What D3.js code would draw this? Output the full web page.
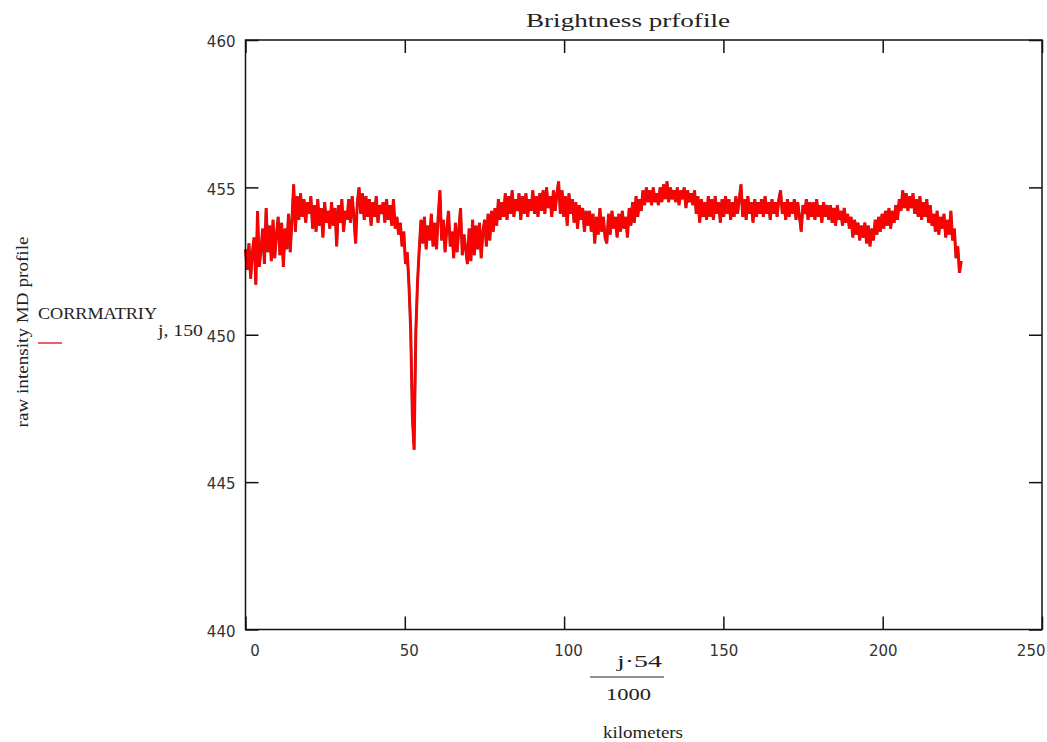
<!DOCTYPE html>
<html lang="en">

<head>
  <meta charset="UTF-8">
  <title>Brightness prfofile</title>
  <style>
    body {
      margin: 0;
      background: #fff;
    }

    svg {
      display: block;
    }

    .tick-label {
      font-family: "DejaVu Sans", sans-serif;
      font-size: 15px;
      fill: #333;
    }

    .serif {
      font-family: "Liberation Serif", "DejaVu Serif", serif;
      fill: #222;
    }
  </style>
</head>

<body>
  <svg width="1047" height="742"></svg>
  <script src="https://d3js.org/d3.v7.min.js"></script>
  <script>
    var width = 1047;
    var height = 742;
    var margin = { top: 40, right: 5, bottom: 112.5, left: 245.5 };

    // sampled every 10th j (j*54/1000 = kilometers)
    var jStep = 10;
    var brightness = [
      452.9, 452.2, 453.1, 451.9, 452.8, 453.3, 451.7, 454.2, 452.3, 452.9,
      453.6, 452.4, 454.3, 452.8, 453.7, 452.5, 453.9, 452.6, 453.4, 454.0,
      452.7, 453.8, 452.3, 453.6, 452.9, 454.1, 452.8, 453.9, 455.1, 453.5,
      454.7, 453.9, 454.8, 454.0, 454.6, 453.8, 454.5, 454.1, 454.7, 453.6,
      454.4, 453.5, 454.6, 453.7, 454.3, 453.3, 454.5, 453.8, 454.2, 453.6,
      454.5, 453.7, 454.3, 453.0, 454.4, 453.8, 454.6, 453.5, 454.2, 453.9,
      454.6, 453.8, 454.7, 454.0, 453.1, 454.5, 455.0, 454.1, 454.8, 453.9,
      454.7, 454.0, 454.6, 453.7, 454.5, 454.0, 454.7, 453.8, 454.4, 454.1,
      454.5, 453.8, 454.6, 453.9, 454.4, 453.7, 454.6, 453.6, 454.0, 453.4,
      453.8, 453.0, 453.5, 452.4, 452.8, 451.7, 450.2, 447.2, 446.1, 450.1,
      451.8, 452.9, 453.9, 453.1, 454.0, 452.9, 453.7, 453.2, 454.1, 453.0,
      453.8, 452.9, 454.0, 454.9, 453.2, 453.9, 452.8, 453.6, 454.2, 453.0,
      453.5, 452.6, 453.8, 452.8, 453.6, 454.3, 452.7, 453.4, 452.9, 452.4,
      453.6, 452.5, 453.9, 452.7, 453.7, 452.9, 453.8, 452.6, 453.5, 453.9,
      453.0, 454.1, 453.2, 454.2, 453.5, 454.3, 453.7, 454.6, 453.9, 454.5,
      454.0, 454.8, 453.9, 454.7, 454.1, 454.9, 454.0, 454.6, 454.2, 454.8,
      453.9, 454.7, 454.1, 454.8, 454.0, 454.6, 454.2, 454.9, 454.1, 454.7,
      454.0, 454.8, 454.2, 454.9, 454.1, 455.0, 454.3, 454.7, 454.0, 454.9,
      454.2, 454.8, 455.2, 454.1, 454.9, 454.0, 454.7, 453.7, 454.8, 454.1,
      454.6, 453.8, 454.5, 453.6, 454.4, 453.9, 454.3, 453.5, 454.2, 453.7,
      454.2, 453.5, 454.1, 453.1, 454.0, 453.4, 454.3, 453.5, 454.0, 453.3,
      453.1, 454.1, 453.4, 454.2, 453.6, 454.0, 453.3, 454.1, 453.5, 454.2,
      453.6, 454.0, 453.3, 454.3, 453.7, 454.5, 453.8, 454.7, 454.0, 454.6,
      454.2, 454.9, 454.4, 455.0, 454.5, 454.9, 454.4, 455.0, 454.5, 454.8,
      454.4, 455.0, 454.5, 455.1, 454.6, 455.2, 454.5, 455.0, 454.6, 454.9,
      454.5, 455.0, 454.4, 454.9, 454.6, 455.0, 454.3, 454.9, 454.5, 454.8,
      454.4, 454.9, 454.1, 454.7, 453.8, 454.6, 454.0, 454.5, 453.9, 454.7,
      454.0, 454.6, 453.9, 454.7, 454.1, 454.5, 453.8, 454.6, 454.0, 454.7,
      454.1, 454.6, 453.9, 454.5, 454.0, 454.7, 454.1, 454.6, 455.1, 454.0,
      454.6, 453.9, 454.7, 454.1, 454.5, 453.8, 454.6, 454.0, 454.5, 454.1,
      454.6, 454.0, 454.7, 454.1, 454.5, 453.9, 454.6, 454.1, 454.5, 454.0,
      454.6, 454.9, 454.1, 454.5, 453.9, 454.6, 454.0, 454.5, 454.1, 454.6,
      453.9, 454.5, 454.0, 453.5, 454.4, 454.1, 454.6, 453.9, 454.5, 454.0,
      454.5, 453.9, 454.6, 454.0, 454.4, 453.8, 454.5, 454.0, 454.4, 453.9,
      454.4, 453.8, 454.3, 453.7, 454.4, 453.9, 454.2, 453.7, 454.3, 453.8,
      454.1, 453.6, 454.0, 453.3, 453.9, 453.4, 453.8, 453.2, 453.7, 453.3,
      453.8, 453.1, 453.7, 453.0, 453.6, 453.2, 453.9, 453.4, 454.0, 453.5,
      454.1, 453.6, 454.2, 453.7, 454.3, 453.6, 454.2, 453.8, 454.4, 453.9,
      454.6, 454.2, 454.9, 454.3, 454.8, 454.2, 454.7, 454.3, 454.8, 454.1,
      454.6, 454.0, 454.7, 453.9, 454.5, 454.0, 454.6, 453.8, 454.4, 453.7,
      454.1, 453.5, 454.2, 453.4, 454.0, 453.6, 454.1, 453.3, 453.9, 453.4,
      454.2, 453.2, 453.6, 452.6, 453.0, 452.1, 452.5
    ];

    var xTicks = [0, 50, 100, 150, 200, 250];
    var yTicks = [440, 445, 450, 455, 460];

    var svg = d3.select('svg');

    // scales
    var xScale = d3.scaleLinear()
      .domain([0, 250])
      .range([margin.left, width - margin.right]);
    var yScale = d3.scaleLinear()
      .domain([440, 460])
      .range([height - margin.bottom, margin.top]);

    var x0 = xScale(0), x1 = xScale(250);
    var y0 = yScale(440), y1 = yScale(460);

    // the trace, thick so the noise reads as a solid band
    var line = d3.line()
      .x((d, i) => xScale(i * jStep * 54 / 1000))
      .y(d => yScale(d));

    svg.append('path')
      .attr('d', line(brightness))
      .style('fill', 'none')
      .style('stroke', '#b02020')
      .style('stroke-width', 3)
      .style('stroke-linejoin', 'bevel');
    svg.append('path')
      .attr('d', line(brightness))
      .style('fill', 'none')
      .style('stroke', '#f00')
      .style('stroke-width', 2.2)
      .style('stroke-linejoin', 'bevel');

    // inward ticks on all four sides
    function tickAxis(axis, transform) {
      var g = svg.append('g')
        .attr('transform', transform)
        .call(axis.tickSizeOuter(0).tickFormat(''));
      g.select('.domain').remove();
      g.selectAll('line').style('stroke', '#111').style('stroke-width', 1.5);
    }
    tickAxis(d3.axisBottom(xScale).tickValues(xTicks).tickSizeInner(-13), 'translate(0,' + y0 + ')');
    tickAxis(d3.axisTop(xScale).tickValues(xTicks).tickSizeInner(-13), 'translate(0,' + y1 + ')');
    tickAxis(d3.axisLeft(yScale).tickValues(yTicks).tickSizeInner(-13), 'translate(' + x0 + ',0)');
    tickAxis(d3.axisRight(yScale).tickValues(yTicks).tickSizeInner(-13), 'translate(' + x1 + ',0)');

    // frame
    svg.append('rect')
      .attr('x', x0)
      .attr('y', y1)
      .attr('width', x1 - x0)
      .attr('height', y0 - y1)
      .style('fill', 'none')
      .style('stroke', '#111')
      .style('stroke-width', 1.5);

    // tick labels
    var xLab = svg.append('g')
      .attr('transform', 'translate(0,' + y0 + ')')
      .call(d3.axisBottom(xScale).tickValues(xTicks).tickSize(0).tickPadding(16));
    xLab.select('.domain').remove();
    xLab.selectAll('text')
      .attr('class', 'tick-label')
      .attr('text-anchor', d => d == 250 ? 'end' : 'middle')
      .attr('dx', d => d == 0 ? 9 : d == 250 ? 3 : d < 150 ? 4 : 0);

    var yLab = svg.append('g')
      .attr('transform', 'translate(' + x0 + ',0)')
      .call(d3.axisLeft(yScale).tickValues(yTicks).tickSize(0).tickPadding(10));
    yLab.select('.domain').remove();
    yLab.selectAll('text')
      .attr('class', 'tick-label')
      .attr('dy', '0.45em');

    // title
    svg.append('text')
      .attr('class', 'serif')
      .attr('x', 628)
      .attr('y', 27)
      .attr('text-anchor', 'middle')
      .attr('textLength', 204)
      .attr('lengthAdjust', 'spacingAndGlyphs')
      .style('font-size', '18px')
      .text('Brightness prfofile');

    // y label
    svg.append('text')
      .attr('class', 'serif')
      .attr('transform', 'translate(28,332) rotate(-90)')
      .attr('text-anchor', 'middle')
      .attr('textLength', 191)
      .attr('lengthAdjust', 'spacingAndGlyphs')
      .style('font-size', '16px')
      .text('raw intensity MD profile');

    // legend
    var legend = svg.append('text')
      .attr('class', 'serif')
      .attr('x', 38)
      .attr('y', 319)
      .style('font-size', '16px');
    legend.append('tspan')
      .attr('textLength', 119)
      .attr('lengthAdjust', 'spacingAndGlyphs')
      .text('CORRMATRIY');
    legend.append('tspan')
      .attr('x', 158)
      .attr('y', 336)
      .attr('textLength', 45)
      .attr('lengthAdjust', 'spacingAndGlyphs')
      .text('j, 150');

    svg.append('line')
      .attr('x1', 38)
      .attr('x2', 62)
      .attr('y1', 343)
      .attr('y2', 343)
      .style('stroke', '#e03030')
      .style('stroke-width', 1.5);

    // x label, written as a fraction
    svg.append('text')
      .attr('class', 'serif')
      .attr('x', 617)
      .attr('y', 667)
      .attr('textLength', 45)
      .attr('lengthAdjust', 'spacingAndGlyphs')
      .style('font-size', '16px')
      .text('j\u00b754');
    svg.append('line')
      .attr('x1', 590)
      .attr('x2', 664)
      .attr('y1', 677)
      .attr('y2', 677)
      .style('stroke', '#222')
      .style('stroke-width', 1.2);
    svg.append('text')
      .attr('class', 'serif')
      .attr('x', 606)
      .attr('y', 700)
      .attr('textLength', 45)
      .attr('lengthAdjust', 'spacingAndGlyphs')
      .style('font-size', '16px')
      .text('1000');
    svg.append('text')
      .attr('class', 'serif')
      .attr('x', 603)
      .attr('y', 738)
      .attr('textLength', 80)
      .attr('lengthAdjust', 'spacingAndGlyphs')
      .style('font-size', '17px')
      .text('kilometers');
  </script>
</body>

</html>
